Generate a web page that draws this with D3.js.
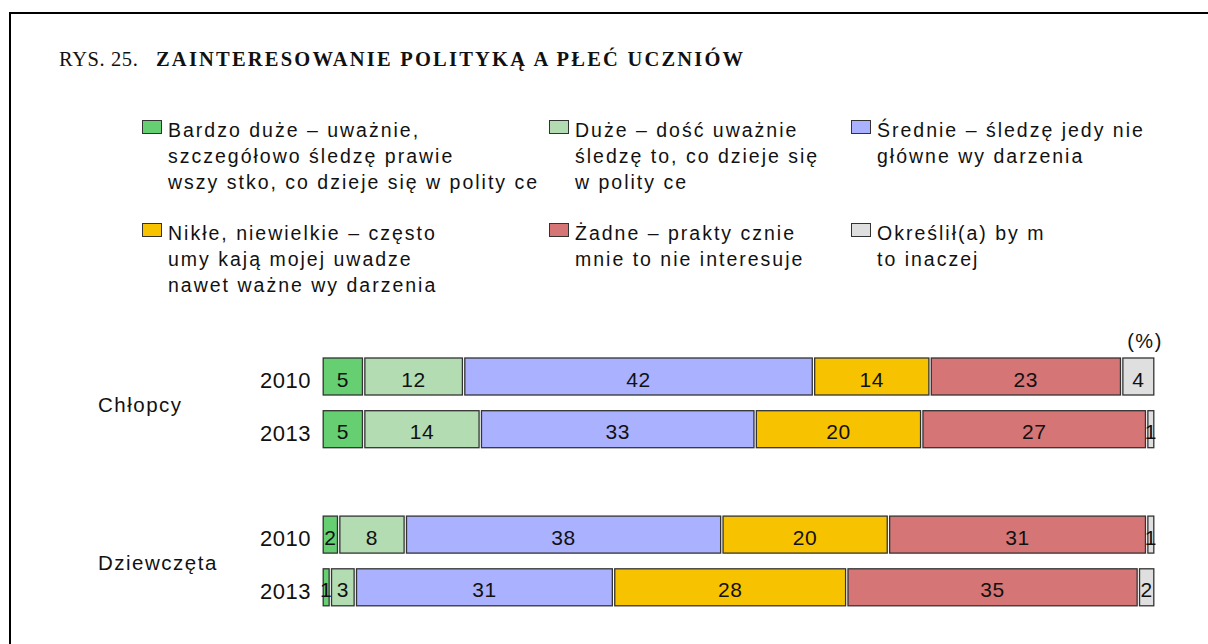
<!DOCTYPE html>
<html lang="pl">
<head>
<meta charset="utf-8">
<title>Zainteresowanie polityką a płeć uczniów</title>
<script src="https://cdn.jsdelivr.net/npm/d3@7"></script>
<style>
  html, body { margin: 0; padding: 0; background: #fff; }
  svg { display: block; }
  text { font-family: Arial, "Liberation Sans", sans-serif; fill: #111; }
  .title { font-family: "Times New Roman", "Liberation Serif", serif; font-size: 20.5px; }
</style>
</head>
<body>
<div id="chart"></div>
<script>
// Stacked 100% bars: interest in politics by pupil sex, 2010 vs 2013.
// The source PDF renders text with wide character spacing, so most
// labels carry a letter-spacing to keep the same widths.

const categories = ['Bardzo duże', 'Duże', 'Średnie', 'Nikłe', 'Żadne', 'Inaczej'];
const legendLines = [
    ['Bardzo duże – uważnie,', 'szczegółowo śledzę prawie', 'wszy stko, co dzieje się w polity ce'],
    ['Duże – dość uważnie', 'śledzę to, co dzieje się', 'w polity ce'],
    ['Średnie – śledzę jedy nie', 'główne wy darzenia'],
    ['Nikłe, niewielkie – często', 'umy kają mojej uwadze', 'nawet ważne wy darzenia'],
    ['Żadne – prakty cznie', 'mnie to nie interesuje'],
    ['Określił(a) by m', 'to inaczej'],
];
const colors = ['#66cf72', '#b3dcb3', '#aab1ff', '#f7c300', '#d67575', '#dfdfdf'];

const groups = ['Chłopcy', 'Dziewczęta'];
const years = ['2010', '2013'];
const boys2010 = [5, 12, 42, 14, 23, 4];
const boys2013 = [5, 14, 33, 20, 27, 1];
const girls2010 = [2, 8, 38, 20, 31, 1];
const girls2013 = [1, 3, 31, 28, 35, 2];

const rows = [
    { group: groups[0], year: years[0], values: boys2010 },
    { group: groups[0], year: years[1], values: boys2013 },
    { group: groups[1], year: years[0], values: girls2010 },
    { group: groups[1], year: years[1], values: girls2013 },
];

const W = 1208, H = 644;
const BAR_H = 37;
const GAP = 1.2;   // white gap each side of a segment

const svg = d3.select('#chart').append('svg')
    .attr('width', W).attr('height', H)
    .attr('viewBox', `0 0 ${W} ${H}`);

// frame: only top and left edges are visible in the crop
svg.append('line').attr('x1', 10).attr('x2', W).attr('y1', 13).attr('y2', 13)
    .attr('stroke', '#000').attr('stroke-width', 2);
svg.append('line').attr('x1', 10).attr('x2', 10).attr('y1', 12).attr('y2', H)
    .attr('stroke', '#000').attr('stroke-width', 2);

// title
svg.append('text').attr('class', 'title')
    .attr('x', 59).attr('y', 66)
    .attr('letter-spacing', 0.6)
    .text('RYS. 25.');
svg.append('text').attr('class', 'title')
    .attr('x', 156).attr('y', 66)
    .attr('font-weight', 'bold')
    .attr('letter-spacing', 2.2)
    .text('ZAINTERESOWANIE POLITYKĄ A PŁEĆ UCZNIÓW');

// legend: 3 columns x 2 rows
const legendCols = [142, 549, 851];
const legendRows = [137, 240];
const lineH = 26;
const legend = svg.append('g').attr('class', 'legend');
categories.forEach((c, i) => {
    const lx = legendCols[i % 3];
    const ly = legendRows[Math.floor(i / 3)];
    const g = legend.append('g');
    g.append('rect')
        .attr('x', lx + 0.5).attr('y', ly - 16.5)
        .attr('width', 19).attr('height', 13)
        .attr('fill', colors[i])
        .attr('stroke', '#333').attr('stroke-width', 1);
    const t = g.append('text')
        .attr('x', lx + 26).attr('y', ly)
        .attr('font-size', 19.5)
        .attr('letter-spacing', 2.0);
    legendLines[i].forEach((ln, k) => {
        t.append('tspan').attr('x', lx + 26).attr('dy', k === 0 ? 0 : lineH).text(ln);
    });
});

// scales
const x = d3.scaleLinear().domain([0, 100]).range([322, 1155]);
const rowKeys = ['b2010', 'b2013', 'gap', 'g2010', 'g2013'];
const y = d3.scalePoint().domain(rowKeys).range([376.5, 587.3]);
const keyOf = (r) => (r.group === groups[0] ? 'b' : 'g') + r.year;

// stacked segments
const bars = svg.append('g').attr('class', 'bars');
rows.forEach((r) => {
    const cy = y(keyOf(r));
    const stack = d3.cumsum(r.values);
    const segs = r.values.map((v, i) => ({ v, i, x0: stack[i] - v, x1: stack[i] }));
    const g = bars.append('g');
    g.selectAll('rect').data(segs).enter().append('rect')
        .attr('x', (d) => x(d.x0) + GAP)
        .attr('y', cy - BAR_H / 2)
        .attr('width', (d) => Math.max(1, x(d.x1) - x(d.x0) - 2 * GAP))
        .attr('height', BAR_H)
        .attr('fill', (d) => colors[d.i])
        .attr('stroke', '#333')
        .attr('stroke-width', 1.3);
    g.selectAll('text').data(segs).enter().append('text')
        .attr('x', (d) => (x(d.x0) + x(d.x1)) / 2)
        .attr('y', cy + 10)
        .attr('text-anchor', 'middle')
        .attr('font-size', 21)
        .attr('letter-spacing', 0.6)
        .text((d) => d.v);

    svg.append('text')
        .attr('x', 311).attr('y', cy + 11.5)
        .attr('text-anchor', 'end')
        .attr('font-size', 22)
        .attr('letter-spacing', 0.5)
        .text(r.year);
});

// group labels centred between their two rows
groups.forEach((gname, gi) => {
    const k = gi === 0 ? 'b' : 'g';
    const mid = (y(k + years[0]) + y(k + years[1])) / 2;
    svg.append('text')
        .attr('x', 98).attr('y', mid + 9)
        .attr('font-size', 20.5)
        .attr('letter-spacing', 1.5)
        .text(gname);
});

// unit
svg.append('text')
    .attr('x', 1145).attr('y', 348)
    .attr('text-anchor', 'middle')
    .attr('font-size', 20)
    .attr('letter-spacing', 1.5)
    .text('(%)');
</script>
</body>
</html>
